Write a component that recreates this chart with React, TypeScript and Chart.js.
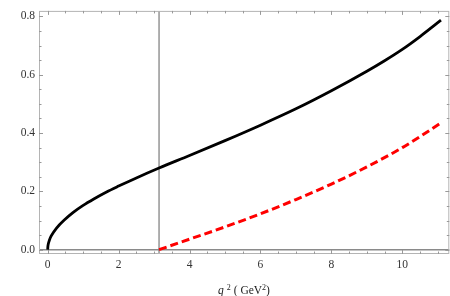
import React, { useEffect, useRef } from "react";
import { Chart, registerables } from "chart.js";

Chart.register(...registerables);

// Black solid curve (q^2 in GeV^2, value)
const qBlack = [0, 0.005, 0.02, 0.05, 0.1, 0.25, 0.5, 0.72, 1.0, 1.3, 1.66, 2.0, 2.5, 3.14, 4.0, 5.0, 6.0, 7.0, 8.0, 9.0, 9.5, 10.0, 10.5, 11.09];
const valBlack = [0, 0.010, 0.021, 0.033, 0.047, 0.074, 0.105, 0.128, 0.152, 0.174, 0.198, 0.218, 0.246, 0.280, 0.323, 0.374, 0.427, 0.483, 0.545, 0.612, 0.648, 0.687, 0.731, 0.787];

// Red dashed curve
const qRed = [3.14, 4.0, 5.0, 6.0, 7.0, 8.0, 9.0, 10.0, 11.12];
const valRed = [0, 0.036, 0.078, 0.123, 0.172, 0.225, 0.284, 0.35, 0.437];

// Threshold (vertical line)
const threshold = 3.14;

const xTickValues = [0, 2, 4, 6, 8, 10];
const yTickValues = [0, 0.2, 0.4, 0.6, 0.8];

const X_MIN = -0.245;
const X_MAX = 11.325;
const Y_MIN = -0.0149;
const Y_MAX = 0.819;

const framePlugin = {
  id: "mmaFrame",
  beforeDatasetsDraw(chart: any) {
    const { ctx, chartArea: a, scales } = chart;
    const xs = scales.x;
    const ys = scales.y;
    ctx.save();
    // y = 0 axis line
    const y0 = ys.getPixelForValue(0);
    ctx.strokeStyle = "#8a8a8a";
    ctx.lineWidth = 1.5;
    ctx.beginPath();
    ctx.moveTo(a.left, y0);
    ctx.lineTo(a.right, y0);
    ctx.stroke();
    // vertical threshold line
    const xt = xs.getPixelForValue(threshold);
    ctx.strokeStyle = "#7a7a7a";
    ctx.lineWidth = 1.2;
    ctx.beginPath();
    ctx.moveTo(xt, a.top);
    ctx.lineTo(xt, a.bottom);
    ctx.stroke();
    // frame
    ctx.strokeStyle = "#b4b4b4";
    ctx.lineWidth = 1;
    ctx.strokeRect(a.left + 0.5, a.top + 0.5, a.right - a.left - 1, a.bottom - a.top - 1);
    // ticks
    ctx.strokeStyle = "#999";
    ctx.lineWidth = 1;
    ctx.beginPath();
    for (let i = 0; i <= 22; i++) {
      const v = i * 0.5;
      const major = i % 4 === 0;
      const len = major ? 4 : 2.5;
      const px = Math.round(xs.getPixelForValue(v)) + 0.5;
      ctx.moveTo(px, a.bottom);
      ctx.lineTo(px, a.bottom - len);
      ctx.moveTo(px, a.top);
      ctx.lineTo(px, a.top + len);
    }
    for (let i = 0; i <= 16; i++) {
      const v = i * 0.05;
      const major = i % 4 === 0;
      const len = major ? 4 : 2.5;
      const py = Math.round(ys.getPixelForValue(v)) + 0.5;
      ctx.moveTo(a.left, py);
      ctx.lineTo(a.left + len, py);
      ctx.moveTo(a.right, py);
      ctx.lineTo(a.right - len, py);
    }
    ctx.stroke();
    ctx.restore();
  },
};

export default function App() {
  const ref = useRef<HTMLCanvasElement | null>(null);

  useEffect(() => {
    document.body.style.margin = "0";
    const canvas = ref.current;
    if (!canvas) return;
    const font = { family: "'Liberation Serif', 'Times New Roman', serif", size: 11.5 };
    const chart = new Chart(canvas, {
      type: "line",
      data: {
        datasets: [
          {
            data: qRed.map((q, i) => ({ x: q, y: valRed[i] })),
            borderColor: "#ff0000",
            borderWidth: 3,
            borderDash: [8, 4],
            pointRadius: 0,
            cubicInterpolationMode: "monotone",
            fill: false,
          },
          {
            data: qBlack.map((q, i) => ({ x: q, y: valBlack[i] })),
            borderColor: "#000000",
            borderWidth: 2.8,
            pointRadius: 0,
            cubicInterpolationMode: "monotone",
            fill: false,
          },
        ],
      },
      options: {
        animation: false,
        responsive: false,
        devicePixelRatio: 1,
        layout: { padding: { top: 1.5, right: 0.7, left: 0, bottom: 0 } },
        plugins: { legend: { display: false }, tooltip: { enabled: false }, title: { display: false } },
        scales: {
          x: {
            type: "linear",
            min: X_MIN,
            max: X_MAX,
            afterBuildTicks: (s: any) => {
              s.ticks = xTickValues.map((v) => ({ value: v }));
            },
            afterFit: (s: any) => {
              s.height = 42;
            },
            grid: { display: false, drawTicks: false },
            border: { display: false },
            ticks: {
              padding: 4,
              maxRotation: 0,
              autoSkip: false,
              color: "#333",
              font,
              callback: (v: any) => String(v),
            },
          },
          y: {
            type: "linear",
            min: Y_MIN,
            max: Y_MAX,
            afterBuildTicks: (s: any) => {
              s.ticks = yTickValues.map((v) => ({ value: v }));
            },
            afterFit: (s: any) => {
              s.width = 39;
            },
            grid: { display: false, drawTicks: false },
            border: { display: false },
            ticks: {
              padding: 4,
              autoSkip: false,
              color: "#333",
              font,
              callback: (v: any) => Number(v).toFixed(1),
            },
          },
        },
      },
      plugins: [framePlugin],
    } as any);
    return () => chart.destroy();
  }, []);

  return (
    <div style={{ position: "relative", width: 450, height: 296, background: "#fff" }}>
      <canvas ref={ref} width={450} height={296} style={{ display: "block" }} />
      <div
        style={{
          position: "absolute",
          left: 144,
          width: 200,
          top: 283,
          textAlign: "center",
          fontFamily: "'Liberation Serif', 'Times New Roman', serif",
          fontSize: 11.5,
          lineHeight: "14px",
          color: "#222",
          whiteSpace: "nowrap",
        }}
      >
        <i>q</i>
        <span style={{ fontSize: 8, position: "relative", top: -4, marginLeft: 3 }}>2</span>
        {" ( GeV"}
        <span style={{ fontSize: 8, position: "relative", top: -4 }}>2</span>
        {")"}
      </div>
    </div>
  );
}
